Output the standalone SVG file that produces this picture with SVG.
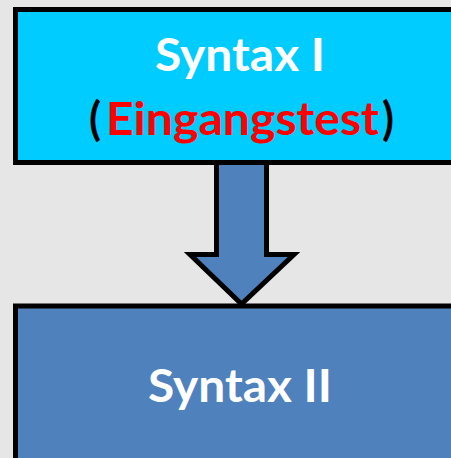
<svg xmlns="http://www.w3.org/2000/svg" width="451" height="458" viewBox="0 0 451 458">
<style>
.box{stroke:#000;stroke-width:5}
.t{font-family:Lato,"Open Sans","Liberation Sans",sans-serif;font-weight:bold;font-size:45px}
.c{text-anchor:middle}
</style>
<rect x="0" y="0" width="451" height="458" fill="#e6e6e6"/>
<g id="node-syntax1">
<rect class="box" x="15.5" y="9.5" width="450" height="153" fill="#00ccff"/>
<text class="t c" x="240" y="71" fill="#fff" textLength="170" lengthAdjust="spacingAndGlyphs">Syntax I</text>
<text class="t" x="89" y="135" fill="#000" font-weight="normal" textLength="12" lengthAdjust="spacingAndGlyphs">(</text>
<text class="t" x="106" y="135" fill="#ff0000" textLength="273" lengthAdjust="spacingAndGlyphs">Eingangstest</text>
<text class="t" x="382" y="135" fill="#000" font-weight="normal" textLength="12" lengthAdjust="spacingAndGlyphs">)</text>
</g>
<g id="node-syntax2">
<rect class="box" x="15.5" y="306" width="450" height="170" fill="#4f81bd"/>
<text class="t c" x="240" y="402" fill="#fff" textLength="184" lengthAdjust="spacingAndGlyphs">Syntax II</text>
</g>
<g id="connectors">
<path class="box" d="M216.5,162.5 H266.5 V254.5 H294 L241.5,304 L190,254.5 H216.5 Z" fill="#4f81bd" stroke-linejoin="miter"/>
</g>
</svg>
